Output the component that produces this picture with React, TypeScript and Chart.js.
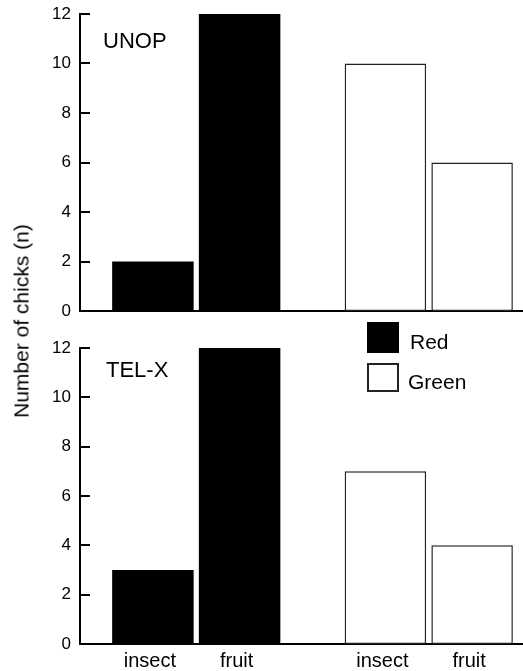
import React, { useEffect, useRef } from "react";
import { Chart, registerables } from "chart.js";

Chart.register(...registerables);

// ---- data ----
const colorGroups = ["Red", "Green"];
const foodTypes = ["insect", "fruit"];
const unopInsect = [2, 10];
const unopFruit = [12, 6];
const telxInsect = [3, 7];
const telxFruit = [12, 4];
const yMin = 0;
const yMax = 12;
const yStep = 2;
const panelNames = ["UNOP", "TEL-X"];
const yTitle = "Number of chicks (n)";

const FONT = "'Liberation Sans', Arial, Helvetica, sans-serif";
const groupFill = ["#000000", "#ffffff"];
const groupBorder = ["#000000", "#222222"];
const groupBorderWidth = [0, 1.5];

const inwardTicks = {
  id: "inwardTicks",
  afterDatasetsDraw(chart: any) {
    const y = chart.scales.y;
    const { ctx, chartArea } = chart;
    ctx.save();
    ctx.strokeStyle = "#000";
    ctx.lineWidth = 2;
    y.ticks.forEach((_t: any, i: number) => {
      const py = Math.round(y.getPixelForTick(i));
      ctx.beginPath();
      ctx.moveTo(chartArea.left, py);
      ctx.lineTo(chartArea.left + 10, py);
      ctx.stroke();
    });
    ctx.restore();
  },
};

const panelText = {
  id: "panelText",
  afterDraw(chart: any, _args: any, opts: any) {
    const { ctx, chartArea } = chart;
    ctx.save();
    ctx.fillStyle = "#000";
    ctx.textBaseline = "alphabetic";
    if (opts.label) {
      ctx.font = `22px ${FONT}`;
      ctx.textAlign = "left";
      ctx.fillText(opts.label, chartArea.left + opts.dx, chartArea.top + opts.dy);
    }
    if (opts.barLabels) {
      ctx.font = `20px ${FONT}`;
      ctx.textAlign = "center";
      chart.data.datasets.forEach((ds: any, di: number) => {
        const meta = chart.getDatasetMeta(di);
        meta.data.forEach((bar: any) => {
          ctx.fillText(ds.label, bar.x - 3, chartArea.bottom + 23);
        });
      });
    }
    ctx.restore();
  },
};

type PanelProps = {
  insect: number[];
  fruit: number[];
  label: string;
  dx: number;
  dy: number;
  top: number;
  height: number;
  padTop: number;
  xAxisHeight: number;
  barLabels: boolean;
};

function Panel(p: PanelProps) {
  const ref = useRef<HTMLCanvasElement | null>(null);
  useEffect(() => {
    if (!ref.current) return;
    const mk = (name: string, values: number[]) => ({
      label: name,
      data: values,
      backgroundColor: groupFill,
      borderColor: groupBorder,
      borderWidth: groupBorderWidth,
      borderSkipped: false,
      categoryPercentage: 0.7458,
      barPercentage: 0.94,
    });
    const chart = new Chart(ref.current, {
      type: "bar",
      data: {
        labels: colorGroups,
        datasets: [mk(foodTypes[0], p.insect), mk(foodTypes[1], p.fruit)],
      },
      options: {
        responsive: false,
        animation: false,
        layout: { padding: { top: p.padTop, left: 0, right: 0, bottom: 0 } },
        plugins: {
          legend: { display: false },
          tooltip: { enabled: false },
          panelText: { label: p.label, dx: p.dx, dy: p.dy, barLabels: p.barLabels },
        } as any,
        scales: {
          x: {
            type: "category",
            offset: true,
            grid: { display: false, drawTicks: false },
            ticks: { display: false },
            border: { display: true, color: "#000", width: 2 },
            afterFit: (s: any) => {
              s.height = p.xAxisHeight;
              s.paddingLeft = 0;
              s.paddingRight = 0;
              s.paddingTop = 0;
              s.paddingBottom = 0;
            },
          },
          y: {
            min: yMin,
            max: yMax,
            grid: { display: false, drawTicks: false },
            border: { display: true, color: "#000", width: 2 },
            ticks: {
              stepSize: yStep,
              padding: 9,
              color: "#000",
              font: { family: FONT, size: 17 },
            },
            afterFit: (s: any) => {
              s.width = 80;
              s.paddingTop = 0;
              s.paddingBottom = 0;
              s.paddingLeft = 0;
              s.paddingRight = 0;
            },
          },
        },
      },
      plugins: [inwardTicks, panelText],
    } as any);
    return () => chart.destroy();
  }, []);
  return (
    <canvas
      ref={ref}
      width={545}
      height={p.height}
      style={{ position: "absolute", left: 0, top: p.top, width: 545, height: p.height }}
    />
  );
}

export default function App() {
  return (
    <div
      style={{
        position: "absolute",
        left: 0,
        top: 0,
        width: 523,
        height: 671,
        overflow: "hidden",
        background: "#fff",
        fontFamily: FONT,
      }}
    >
      <Panel
        insect={unopInsect}
        fruit={unopFruit}
        label={panelNames[0]}
        dx={23}
        dy={34}
        top={0}
        height={320}
        padTop={14}
        xAxisHeight={9}
        barLabels={false}
      />
      <Panel
        insect={telxInsect}
        fruit={telxFruit}
        label={panelNames[1]}
        dx={26}
        dy={29}
        top={330}
        height={341}
        padTop={18}
        xAxisHeight={27}
        barLabels={true}
      />
      <div
        style={{
          position: "absolute",
          left: 20.5,
          top: 321,
          transform: "translate(-50%, -50%) rotate(-90deg)",
          whiteSpace: "nowrap",
          fontSize: 21,
          lineHeight: 1,
          color: "#000",
        }}
      >
        {yTitle}
      </div>
      <div
        style={{
          position: "absolute",
          left: 367,
          top: 322,
          width: 32,
          height: 31,
          background: groupFill[0],
        }}
      />
      <div
        style={{
          position: "absolute",
          left: 410,
          top: 330.5,
          fontSize: 21,
          lineHeight: 1,
          color: "#000",
        }}
      >
        {colorGroups[0]}
      </div>
      <div
        style={{
          position: "absolute",
          left: 367,
          top: 363,
          width: 32,
          height: 29,
          boxSizing: "border-box",
          border: "2px solid #222",
          background: groupFill[1],
        }}
      />
      <div
        style={{
          position: "absolute",
          left: 408,
          top: 371.2,
          fontSize: 21,
          lineHeight: 1,
          color: "#000",
        }}
      >
        {colorGroups[1]}
      </div>
    </div>
  );
}
